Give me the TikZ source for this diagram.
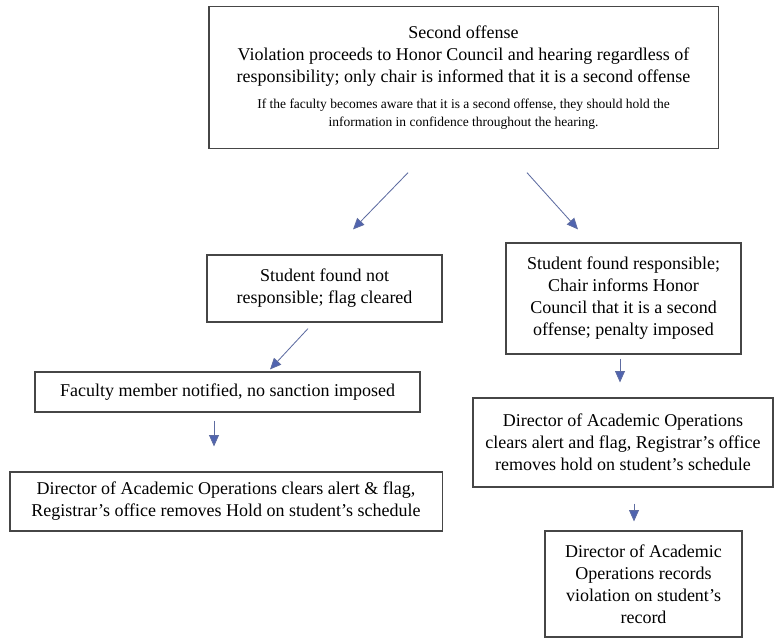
\documentclass[tikz,border=0pt]{standalone}
\usepackage{fontspec}
\setmainfont{Liberation Serif}
\usetikzlibrary{arrows.meta, positioning, calc}

\definecolor{arrowblue}{RGB}{80,100,176}
\definecolor{boxgray}{RGB}{70,70,70}
\newcommand{\notefont}{\fontsize{9.6}{12.4}\selectfont}

\begin{document}
\begin{tikzpicture}[x=0.025cm, y=-0.025cm,
    box/.style={draw=boxgray, line width=0.8pt, align=center, inner sep=2pt,
                font=\fontsize{12.8}{15.6}\selectfont},
    arr/.style={draw=arrowblue!70!gray, line width=0.6pt,
                -{Triangle[length=8pt, width=7pt, fill=arrowblue]}}]
    \useasboundingbox (0,0) rectangle (774,638);

    % Top box
    \node[box, minimum width=12.725cm, minimum height=3.53cm] (second) at (463.5,77.5)
        {Second offense\\
         Violation proceeds to Honor Council and hearing regardless of\\
         responsibility; only chair is informed that it is a second offense\\[3pt]
         \notefont If the faculty becomes aware that it is a second offense, they should hold the\\[-3pt]
         \notefont information in confidence throughout the hearing.};

    % Left branch
    \node[box, minimum width=5.875cm, minimum height=1.675cm] (notresp) at (324.5,288.5)
        {Student found not\\ responsible; flag cleared};
    \node[box, minimum width=9.625cm, minimum height=1cm] (faculty) at (227.5,392)
        {Faculty member notified, no sanction imposed};
    \node[box, minimum width=10.8cm, minimum height=1.475cm] (clearleft) at (226,501.5)
        {Director of Academic Operations clears alert \& flag,\\
         Registrar's office removes Hold on student's schedule};

    % Right branch
    \node[box, minimum width=5.875cm, minimum height=2.775cm] (resp) at (623.5,298.5)
        {Student found responsible;\\ Chair informs Honor\\ Council that it is a second\\ offense; penalty imposed};
    \node[box, minimum width=7.5cm, minimum height=2.225cm] (clearright) at (623,442.5)
        {Director of Academic Operations\\ clears alert and flag, Registrar's office\\ removes hold on student's schedule};
    \node[box, minimum width=4.925cm, minimum height=2.65cm] (record) at (643.5,584)
        {Director of Academic\\ Operations records\\ violation on student's\\ record};

    % Arrows
    \draw[arr] ($(second.south)+(-55.5,24)$) -- ($(notresp.north)+(28.5,-25)$);
    \draw[arr] ($(second.south)+(63.5,24)$) -- ($(resp.north)+(-45.5,-13)$);
    \draw[arr] ($(notresp.south)+(-16.5,6)$) -- ($(faculty.north)+(42.5,-2)$);
    \draw[arr] ($(faculty.south)+(-13.5,8)$) -- ($(clearleft.north)+(-12,-25)$);
    \draw[arr] ($(resp.south)+(-3.5,4)$) -- ($(clearright.north)+(-3,-15)$);
    \draw[arr] ($(clearright.south)+(11,16)$) -- ($(record.north)+(-9.5,-9)$);
\end{tikzpicture}
\end{document}
